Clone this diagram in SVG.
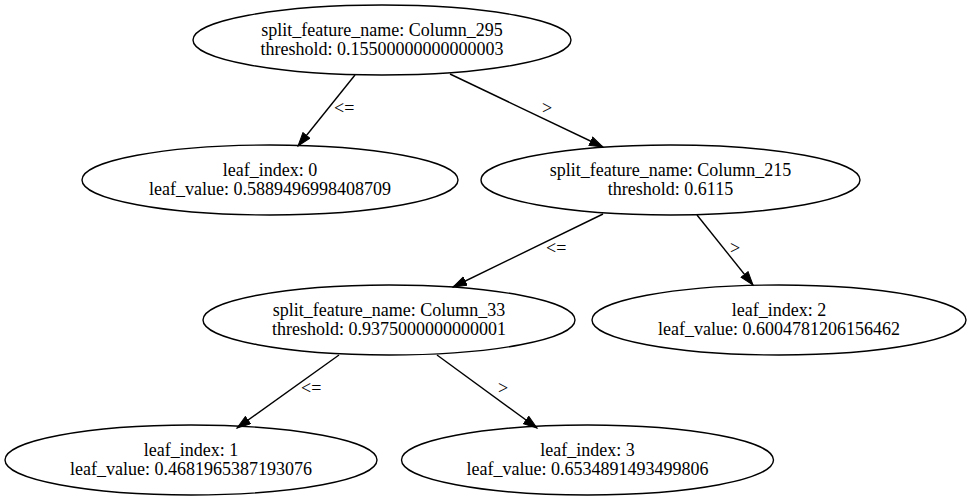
<svg xmlns="http://www.w3.org/2000/svg" width="971" height="501" viewBox="0 0 971 501">
<style>
.n ellipse{fill:none;stroke:#000;stroke-width:1.4}
text{font-family:'Liberation Serif','Tinos','DejaVu Serif',serif;font-size:18px;fill:#000}
.n text{text-anchor:middle}
.e line{stroke:#000;stroke-width:1.4}
</style>
<defs>
<marker id="ah" markerUnits="userSpaceOnUse" markerWidth="16" markerHeight="12" refX="14" refY="5" orient="auto"><path d="M0.5,0.5 L14,5 L0.5,9.5 z" fill="#000" stroke="#000"/></marker>
</defs>
<rect width="971" height="501" fill="#fff"/>
<g id="edges" class="e">
<line x1="355" y1="75" x2="298" y2="146" marker-end="url(#ah)"/>
<text x="334" y="114">&lt;=</text>
<line x1="450" y1="74" x2="603" y2="147" marker-end="url(#ah)"/>
<text x="542" y="114">&gt;</text>
<line x1="603" y1="214" x2="453" y2="287" marker-end="url(#ah)"/>
<text x="546" y="254">&lt;=</text>
<line x1="697" y1="215" x2="753" y2="285" marker-end="url(#ah)"/>
<text x="730" y="254">&gt;</text>
<line x1="339" y1="355" x2="237" y2="428" marker-end="url(#ah)"/>
<text x="301" y="394">&lt;=</text>
<line x1="437" y1="355" x2="537" y2="428" marker-end="url(#ah)"/>
<text x="498" y="394">&gt;</text>
</g>
<g id="n0" class="n"><ellipse cx="382" cy="40" rx="189" ry="35"/><text x="382" y="36">split_feature_name: Column_295</text><text x="382" y="55">threshold: 0.15500000000000003</text></g>
<g id="leaf0" class="n"><ellipse cx="270" cy="180" rx="188" ry="35"/><text x="270" y="176">leaf_index: 0</text><text x="270" y="195">leaf_value: 0.5889496998408709</text></g>
<g id="n1" class="n"><ellipse cx="670.5" cy="180" rx="189.5" ry="35"/><text x="670.5" y="176">split_feature_name: Column_215</text><text x="670.5" y="195">threshold: 0.6115</text></g>
<g id="n2" class="n"><ellipse cx="389" cy="320" rx="186" ry="35"/><text x="389" y="316">split_feature_name: Column_33</text><text x="389" y="335">threshold: 0.9375000000000001</text></g>
<g id="leaf2" class="n"><ellipse cx="779" cy="320" rx="187" ry="35"/><text x="779" y="316">leaf_index: 2</text><text x="779" y="335">leaf_value: 0.6004781206156462</text></g>
<g id="leaf1" class="n"><ellipse cx="191" cy="460" rx="186" ry="35"/><text x="191" y="456">leaf_index: 1</text><text x="191" y="475">leaf_value: 0.4681965387193076</text></g>
<g id="leaf3" class="n"><ellipse cx="587.5" cy="460" rx="186" ry="35"/><text x="587.5" y="456">leaf_index: 3</text><text x="587.5" y="475">leaf_value: 0.6534891493499806</text></g>
</svg>
